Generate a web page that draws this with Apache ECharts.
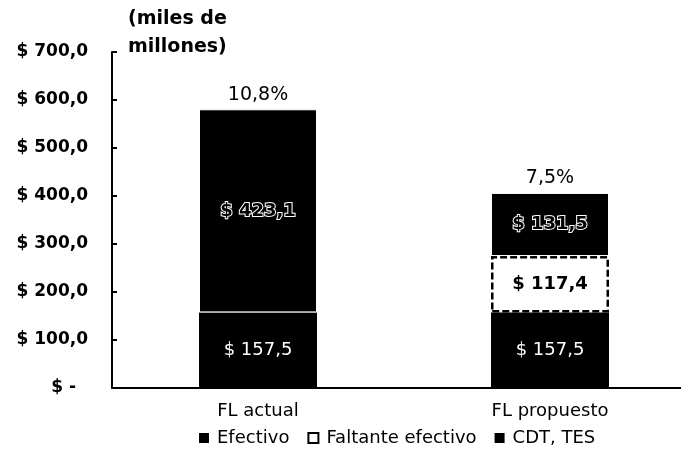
<!DOCTYPE html>
<html>
<head>
<meta charset="utf-8">
<script src="https://cdn.jsdelivr.net/npm/echarts@6/dist/echarts.min.js"></script>
<style>
  html, body { margin: 0; padding: 0; background: #fff; overflow: hidden; }
  #chart { width: 696px; height: 456px; }
</style>
</head>
<body>
<div id="chart"></div>
<script>
// datos del grafico
const categorias = ['FL actual', 'FL propuesto'];
const efectivo = [157.5, 157.5];
const faltante = [null, 117.4];
const cdtTes = [423.1, 131.5];
const porcentajes = ['10,8%', '7,5%'];
const yTicks = [0, 100, 200, 300, 400, 500, 600, 700];

const FONT = 'DejaVu Sans';

// total de cada barra para colocar el porcentaje encima
const totales = categorias.map((_, i) =>
  (efectivo[i] || 0) + (faltante[i] || 0) + (cdtTes[i] || 0));

const fmt = v => '$ ' + v.toFixed(1).replace('.', ',');

// el contenedor es algo mas ancho que la ventana: el eje x sigue hasta el borde
const chart = echarts.init(document.getElementById('chart'));

chart.setOption({
  animation: false,
  textStyle: { fontFamily: FONT, color: '#000' },
  title: {
    text: '(miles de\nmillones)',
    left: 123,
    top: 0,
    textStyle: { fontFamily: FONT, fontSize: 19, fontWeight: 'bold', lineHeight: 28, color: '#000' }
  },
  legend: {
    data: [
      { name: 'Efectivo', itemStyle: { borderWidth: 0 } },
      { name: 'Faltante efectivo' },
      { name: 'CDT, TES', itemStyle: { borderWidth: 0 } }
    ],
    bottom: 4,
    left: 194,
    icon: 'rect',
    itemWidth: 10,
    itemHeight: 10,
    itemGap: 18,
    textStyle: { fontFamily: FONT, fontSize: 18, color: '#000', padding: [0, 0, 0, 3] }
  },
  grid: { left: 112, top: 52, width: 584, height: 336, containLabel: false },
  xAxis: {
    type: 'category',
    data: categorias,
    axisLine: { lineStyle: { color: '#000', width: 2 } },
    axisTick: { show: false },
    axisLabel: { fontFamily: FONT, fontSize: 18, color: '#000', margin: 14 }
  },
  yAxis: {
    type: 'value',
    min: yTicks[0],
    max: yTicks[yTicks.length - 1],
    interval: 100,
    splitLine: { show: false },
    axisLine: { show: true, lineStyle: { color: '#000', width: 2 } },
    axisTick: { show: true, inside: true, length: 5, lineStyle: { color: '#000', width: 2 } },
    axisLabel: {
      fontFamily: FONT, fontSize: 17, fontWeight: 'bold', color: '#000', margin: 24,
      formatter: v => v === 0 ? '$ -\u00a0\u00a0' : fmt(v)
    }
  },
  series: [
    {
      name: 'Efectivo',
      type: 'bar',
      stack: 'fl',
      barWidth: 118,
      data: efectivo,
      itemStyle: { color: '#000' },
      label: {
        show: true, position: 'inside', color: '#fff',
        fontFamily: FONT, fontSize: 18,
        formatter: p => fmt(p.value)
      }
    },
    {
      name: 'Faltante efectivo',
      type: 'bar',
      stack: 'fl',
      data: faltante,
      itemStyle: { color: '#fff', borderColor: '#000', borderWidth: 2.5, borderType: [7, 3] },
      label: {
        show: true, position: 'inside', color: '#000',
        fontFamily: FONT, fontSize: 18, fontWeight: 'bold',
        formatter: p => fmt(p.value)
      }
    },
    {
      name: 'CDT, TES',
      type: 'bar',
      stack: 'fl',
      data: cdtTes,
      itemStyle: { color: '#000', borderColor: '#fff', borderWidth: 1 },
      label: {
        show: true, position: 'inside', color: '#000',
        textBorderColor: '#fff', textBorderWidth: 2,
        fontFamily: FONT, fontSize: 18, fontWeight: 'bold',
        formatter: p => fmt(p.value)
      }
    },
    {
      name: 'pct',
      type: 'bar',
      barGap: '-100%',
      barWidth: 118,
      data: totales,
      z: 1,
      itemStyle: { color: 'rgba(0,0,0,0)' },
      label: {
        show: true, position: 'top', distance: 5, color: '#000',
        fontFamily: FONT, fontSize: 19,
        formatter: p => porcentajes[p.dataIndex]
      }
    }
  ]
});
</script>
</body>
</html>
